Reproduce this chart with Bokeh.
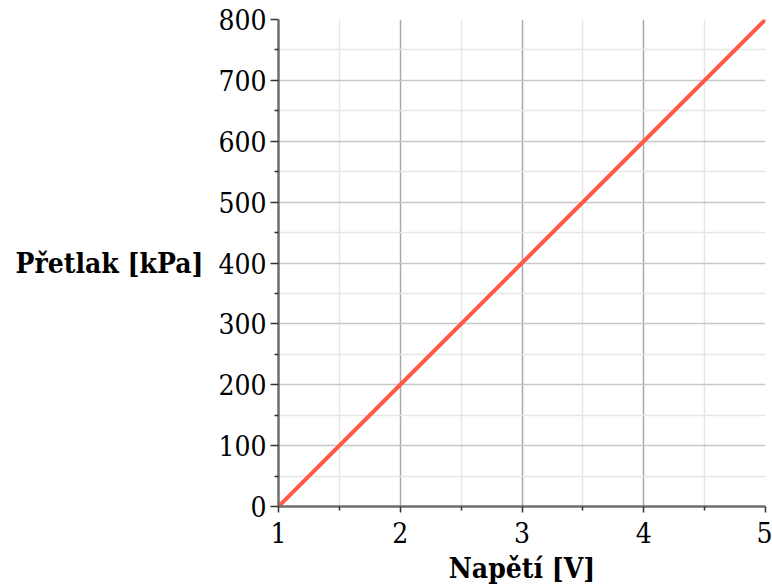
from bokeh.plotting import figure
from bokeh.embed import file_html
from bokeh.resources import INLINE
from bokeh.models import Range1d, FixedTicker

voltage = [1, 2, 3, 4, 5]
pressure = [0, 200, 400, 600, 800]
x_ticks = [1, 2, 3, 4, 5]
x_minor = [1.5, 2.5, 3.5, 4.5]
y_ticks = [0, 100, 200, 300, 400, 500, 600, 700, 800]
y_minor = [50, 150, 250, 350, 450, 550, 650, 750]

p = figure(width=772, height=587, output_backend="svg", toolbar_location=None,
           x_range=Range1d(1, 5), y_range=Range1d(0, 800),
           min_border_left=278, min_border_right=7, min_border_top=19, min_border_bottom=80)
p.outline_line_color = None
p.background_fill_color = "white"
p.border_fill_color = "white"

p.line(voltage, pressure, line_color="#FF5A45", line_width=4)

FONT = "DejaVu Serif Condensed, DejaVu Serif"
p.xaxis.ticker = FixedTicker(ticks=x_ticks, minor_ticks=x_minor)
p.yaxis.ticker = FixedTicker(ticks=y_ticks, minor_ticks=y_minor)

for ax in (p.xaxis[0], p.yaxis[0]):
    ax.major_label_text_font = FONT
    ax.major_label_text_font_size = "28px"
    ax.major_label_text_color = "black"
    ax.axis_label_text_font = FONT
    ax.axis_label_text_font_style = "bold"
    ax.axis_label_text_font_size = "28px"
    ax.axis_label_text_color = "black"
    ax.axis_line_color = "#6e6e6e"
    ax.axis_line_width = 2.5
    ax.major_tick_line_color = "#333333"
    ax.minor_tick_line_color = "#333333"
    ax.major_tick_line_width = 1.5
    ax.minor_tick_line_width = 1.5
    ax.major_tick_in = 0
    ax.minor_tick_in = 0

p.xaxis.axis_label = "Napětí [V]"
p.yaxis.axis_label = "Přetlak [kPa]"
p.yaxis.axis_label_orientation = "horizontal"
p.xaxis.major_tick_out = 6
p.xaxis.minor_tick_out = 4
p.yaxis.major_tick_out = 8
p.yaxis.minor_tick_out = 4
p.xaxis.major_label_standoff = 9
p.yaxis.major_label_standoff = 4
p.xaxis.axis_label_standoff = 6
p.yaxis.axis_label_standoff = 12

p.xgrid.ticker = FixedTicker(ticks=x_ticks, minor_ticks=x_minor)
p.ygrid.ticker = FixedTicker(ticks=y_ticks, minor_ticks=y_minor)
p.xgrid.grid_line_color = "#a8a8a8"
p.ygrid.grid_line_color = "#c8c8c8"
p.xgrid.grid_line_width = 1.5
p.ygrid.grid_line_width = 1.5
p.xgrid.minor_grid_line_color = "#e6e6e6"
p.ygrid.minor_grid_line_color = "#e6e6e6"
p.xgrid.minor_grid_line_width = 1.5
p.ygrid.minor_grid_line_width = 1.5

open("out.html", "w").write(file_html(p, INLINE))
